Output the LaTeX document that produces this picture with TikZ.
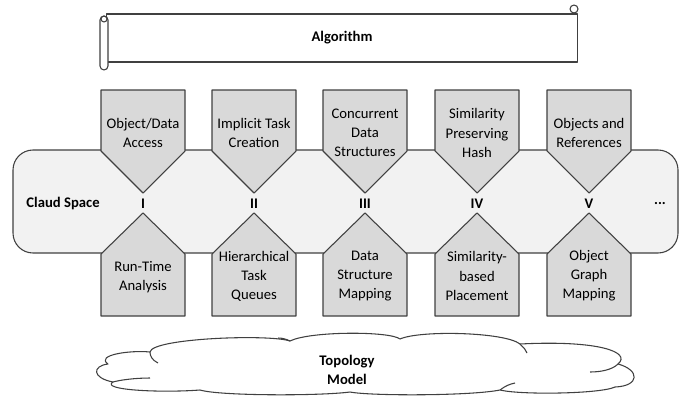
\documentclass[tikz,border=0pt]{standalone}
\usepackage{fontspec}
\setmainfont{Carlito}
\usetikzlibrary{positioning}
\definecolor{edge}{HTML}{404040}
\definecolor{boxfill}{HTML}{D9D9D9}
\definecolor{spacefill}{HTML}{F2F2F2}
\tikzset{
  outline/.style={draw=edge,line width=0.8pt,line join=round},
  pentbox/.style={outline,fill=boxfill},
  boxtext/.style={align=center,font=\fontsize{11}{14.3}\selectfont,inner sep=0pt},
  boldtext/.style={align=center,font=\fontsize{11}{14.3}\selectfont\bfseries,inner sep=0pt},
  spacebox/.style={outline,fill=spacefill,rounded corners=15pt},
  scrollbody/.style={outline,fill=white,minimum width=353pt,minimum height=36pt,
                     inner sep=0pt,font=\fontsize{11}{13}\selectfont\bfseries},
  cloudline/.style={outline,fill=white}
}
\begin{document}
\begin{tikzpicture}[x=0.75pt,y=-0.75pt]
    \path[use as bounding box] (0,0) rectangle (680,396);

    % algorithm scroll
    \node[scrollbody] (algo) at (342,38) {Algorithm};
    \draw[outline,fill=white,rounded corners=3pt] (100,16) rectangle (108,70);
    \draw[outline] (104,19) circle (3);
    \draw[outline,fill=white] (574,9) circle (4);

    % cloud space band
    \draw[spacebox] (13,150) rectangle (678,253);
    \node[boldtext] (space) at (63,204) {Claud Space};

    % top row
    \draw[pentbox] (101,90) -- (185,90) -- (185,151) -- (143,193) -- (101,151) -- cycle;
    \node[boxtext] (access) at (143,133) {Object/Data\\Access};
    \draw[pentbox] (212,90) -- (296,90) -- (296,151) -- (254,193) -- (212,151) -- cycle;
    \node[boxtext] (taskcreate) at (254,133) {Implicit Task\\Creation};
    \draw[pentbox] (323,90) -- (407,90) -- (407,151) -- (365,193) -- (323,151) -- cycle;
    \node[boxtext] (concurrent) at (365,133) {Concurrent\\Data\\Structures};
    \draw[pentbox] (435,90) -- (519,90) -- (519,151) -- (477,193) -- (435,151) -- cycle;
    \node[boxtext] (hash) at (477,133) {Similarity\\Preserving\\Hash};
    \draw[pentbox] (547,90) -- (631,90) -- (631,151) -- (589,193) -- (547,151) -- cycle;
    \node[boxtext] (objects) at (589,133) {Objects and\\References};

    % numerals
    \node[boldtext] (n1) at (143,204) {I};
    \node[boldtext] (n2) at (254,204) {II};
    \node[boldtext] (n3) at (365,204) {III};
    \node[boldtext] (n4) at (477,204) {IV};
    \node[boldtext] (n5) at (589,204) {V};
    \node[boldtext] (more) at (660,204) {...};

    % bottom row
    \draw[pentbox] (101,316) -- (185,316) -- (185,254) -- (143,213) -- (101,254) -- cycle;
    \node[boxtext] (runtime) at (143,277) {Run-Time\\Analysis};
    \draw[pentbox] (212,316) -- (296,316) -- (296,254) -- (254,213) -- (212,254) -- cycle;
    \node[boxtext] (queues) at (254,276) {Hierarchical\\Task\\Queues};
    \draw[pentbox] (323,316) -- (407,316) -- (407,254) -- (365,213) -- (323,254) -- cycle;
    \node[boxtext] (dsmap) at (365,276) {Data\\Structure\\Mapping};
    \draw[pentbox] (435,316) -- (519,316) -- (519,254) -- (477,213) -- (435,254) -- cycle;
    \node[boxtext] (placement) at (477,276) {Similarity-\\based\\Placement};
    \draw[pentbox] (547,316) -- (631,316) -- (631,254) -- (589,213) -- (547,254) -- cycle;
    \node[boxtext] (graphmap) at (589,276) {Object\\Graph\\Mapping};

    % topology cloud
    \draw[cloudline] (150,352) .. controls (152,338) and (270,334) .. (290,341)
      .. controls (310,331) and (390,331) .. (400,339)
      .. controls (420,330) and (505,332) .. (520,344)
      .. controls (598,340) and (632,352) .. (618,364)
      .. controls (640,370) and (640,386) .. (615,387)
      .. controls (600,394) and (520,395) .. (500,390)
      .. controls (470,396) and (370,396) .. (350,392)
      .. controls (320,396) and (220,396) .. (200,390)
      .. controls (160,393) and (100,390) .. (113,382)
      .. controls (92,378) and (92,366) .. (108,364)
      .. controls (95,355) and (130,350) .. (150,352) -- cycle;
    \draw[outline] (150,352) .. controls (150,356) and (152,360) .. (158,363);
    \draw[outline] (290,341) .. controls (286,339) and (282,338) .. (278,338);
    \draw[outline] (520,344) .. controls (524,348) and (526,350) .. (527,353);
    \draw[outline] (618,364) .. controls (612,370) and (600,372) .. (590,372);
    \draw[outline] (113,382) .. controls (120,380) and (135,378) .. (150,378);
    \draw[outline] (500,390) .. controls (505,386) and (510,384) .. (515,383);
    \node[boldtext] (topo) at (347,370) {Topology\\Model};
  \end{tikzpicture}
\end{document}
